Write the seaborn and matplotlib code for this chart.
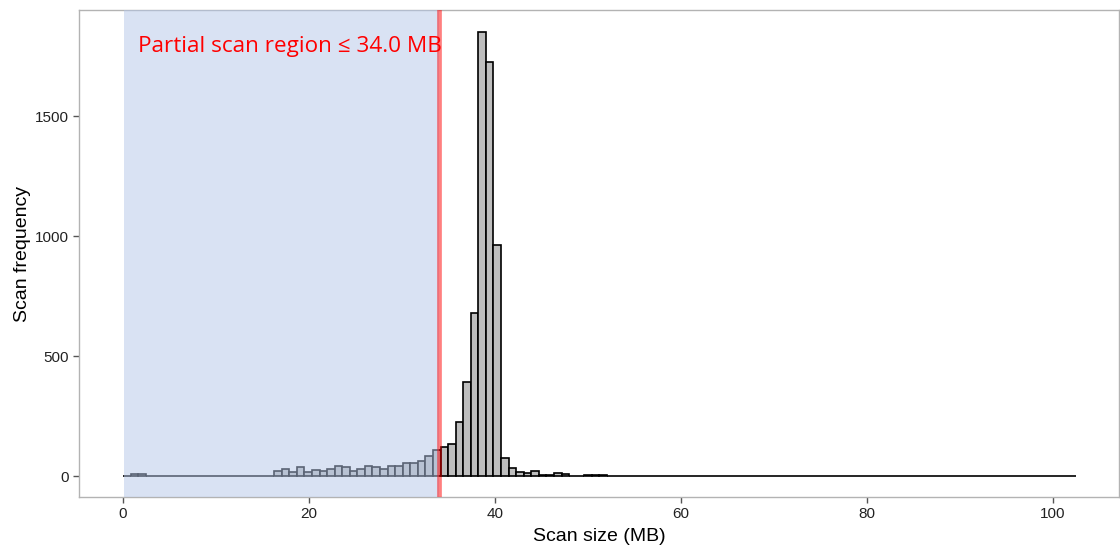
import numpy as np
import pandas as pd
import matplotlib
matplotlib.use("Agg")
import matplotlib.pyplot as plt
import seaborn as sns

# ---- data ----
bin_width = 0.813  # MB
# counts per bin, bin k covers [k*bin_width, (k+1)*bin_width)
counts_low = [2, 10, 7, 1] + [0] * 16                      # bins 0-19
counts_mid = [19, 28, 17, 36, 18, 24, 19, 31, 42, 36, 21, 28,
              42, 36, 31, 42, 42, 56, 56, 64, 82, 107, 121, 135]  # bins 20-43
counts_peak = [224, 393, 678, 1851, 1726, 961, 76, 33, 17, 14, 21]  # bins 44-54
counts_tail = [5, 5, 11, 10, 2, 2, 3, 5, 4, 2, 2, 1, 2, 2, 1, 2, 1, 2, 1, 1,
               2, 2, 0, 2, 2, 0, 2, 2, 2, 2, 2, 0, 1, 1, 1, 1, 0, 0, 0, 0,
               0, 1, 1, 0, 0, 0, 0, 0, 2, 2, 0, 1, 1, 1, 0, 0, 0, 0, 1, 1,
               1, 0, 0, 0, 1, 1, 0, 1, 1, 0, 2]                   # bins 55-125
counts = counts_low + counts_mid + counts_peak + counts_tail

partial_threshold = 34.0
shade_start = 0.1
annotation = "Partial scan region \u2264 34.0 MB"
x_label = "Scan size (MB)"
y_label = "Scan frequency"
x_ticks = [0, 20, 40, 60, 80, 100]
y_ticks = [0, 500, 1000, 1500]

n_bins = len(counts)
centers = (np.arange(n_bins) + 0.5) * bin_width
df = pd.DataFrame({"size": centers, "count": np.asarray(counts, dtype=float)})

# ---- plot ----
sns.set_style("white")
plt.rcParams['font.family'] = ['Liberation Sans', 'DejaVu Sans']

fig = plt.figure(figsize=(11.2, 5.46), dpi=100)
ax = fig.add_axes([79 / 1120, 1 - 497 / 546, (1119 - 79) / 1120, (497 - 10) / 546])

sns.histplot(data=df, x="size", weights="count",
             binwidth=bin_width, binrange=(0, n_bins * bin_width), ax=ax,
             color="#bebebe", edgecolor="black", linewidth=1.2, alpha=1.0,
             zorder=2)

ax.axvspan(shade_start, partial_threshold, facecolor="#b4c6e8", alpha=0.5,
           edgecolor="none", zorder=3)
ax.axvline(partial_threshold, color="#ff0000", alpha=0.5, linewidth=3.4, zorder=4)

ax.text(1.6, 1788, annotation, color="#ff0000", fontsize=16.2,
        family=['Open Sans', 'DejaVu Sans'], ha='left', va='center', zorder=5)

ax.set_xlim(-4.73, 107.1)
ax.set_ylim(-87.5, 1941.7)
ax.set_xticks(x_ticks)
ax.set_yticks(y_ticks)
ax.set_xticklabels([str(t) for t in x_ticks])
ax.set_yticklabels([str(t) for t in y_ticks])
ax.set_xlabel(x_label, fontsize=14, color="black", labelpad=5)
ax.set_ylabel(y_label, fontsize=14, color="black", labelpad=3)

ax.tick_params(axis='both', which='major', length=4, width=1, color="#555555",
               labelsize=11, labelcolor="#222222", direction='out',
               bottom=True, left=True, pad=3)
for s in ax.spines.values():
    s.set_color("#b3b3b3")
    s.set_linewidth(1.0)
    s.set_visible(True)
ax.grid(False)

fig.savefig("out.png", dpi=100)
